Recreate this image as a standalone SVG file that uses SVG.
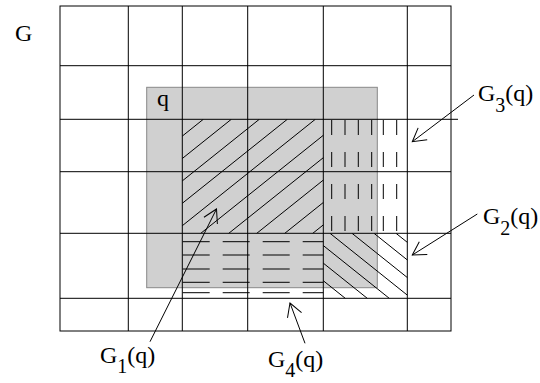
<svg xmlns="http://www.w3.org/2000/svg" width="540" height="383" viewBox="0 0 540 383">
  <style>
    .grid { stroke: #000; stroke-width: 1; fill: none; }
    .hatch { stroke: #000; stroke-width: 1; fill: none; }
    .dv { stroke: #000; stroke-width: 1; stroke-dasharray: 15 17; }
    .dh { stroke: #000; stroke-width: 1; stroke-dasharray: 27 13; }
    .conn { stroke: #000; stroke-width: 1; fill: none; marker-end: url(#ah); }
    text { font-family: "Liberation Serif", "Times New Roman", serif; font-size: 24px; fill: #000; }
  </style>
  <defs>
    <marker id="ah" viewBox="-16 -10 18 20" refX="0" refY="0" markerWidth="18" markerHeight="20" orient="auto" markerUnits="userSpaceOnUse">
      <path d="M-13,-7.5 L0,0 L-13,7.5" fill="none" stroke="#000" stroke-width="1"/>
    </marker>
    <clipPath id="c1"><rect x="182.3" y="119.3" width="141" height="114"/></clipPath>
    <clipPath id="c2"><rect x="323.3" y="233.3" width="84" height="65"/></clipPath>
  </defs>

  <g id="q-region">
    <rect x="146.7" y="87.3" width="230.6" height="200.4" fill="#d0d0d0" stroke="#888" stroke-width="1"/>
    <text x="157" y="106">q</text>
  </g>

  <g id="G1" clip-path="url(#c1)">
    <path class="hatch" d="M203.3,119.3 l-200,160 M231.3,119.3 l-200,160 M259.3,119.3 l-200,160 M287.3,119.3 l-200,160 M315.3,119.3 l-200,160 M343.3,119.3 l-200,160 M371.3,119.3 l-200,160 M399.3,119.3 l-200,160 M427.3,119.3 l-200,160 M455.3,119.3 l-200,160"/>
  </g>

  <g id="G2" clip-path="url(#c2)">
    <path class="hatch" d="M242,233.3 l100,80 M264,233.3 l100,80 M286,233.3 l100,80 M308,233.3 l100,80 M330,233.3 l100,80 M352,233.3 l100,80 M374,233.3 l100,80 M396,233.3 l100,80"/>
  </g>

  <g id="G3">
    <line class="dv" x1="331.7" y1="120" x2="331.7" y2="233"/>
    <line class="dv" x1="345" y1="120" x2="345" y2="233"/>
    <line class="dv" x1="358.3" y1="120" x2="358.3" y2="233"/>
    <line class="dv" x1="371.7" y1="120" x2="371.7" y2="233"/>
    <line class="dv" x1="383.3" y1="120" x2="383.3" y2="233"/>
    <line class="dv" x1="396.7" y1="120" x2="396.7" y2="233"/>
  </g>

  <g id="G4">
    <line class="dh" x1="182.7" y1="241.7" x2="323.3" y2="241.7"/>
    <line class="dh" x1="182.7" y1="255" x2="323.3" y2="255"/>
    <line class="dh" x1="182.7" y1="269" x2="323.3" y2="269"/>
    <line class="dh" x1="182.7" y1="282.3" x2="323.3" y2="282.3"/>
    <line class="dh" x1="182.7" y1="292.7" x2="323.3" y2="292.7"/>
  </g>

  <g id="grid">
    <rect class="grid" x="60" y="6" width="391" height="325"/>
    <line class="grid" x1="128.3" y1="6" x2="128.3" y2="331"/>
    <line class="grid" x1="182.3" y1="6" x2="182.3" y2="331"/>
    <line class="grid" x1="247.7" y1="6" x2="247.7" y2="331"/>
    <line class="grid" x1="323.3" y1="6" x2="323.3" y2="331"/>
    <line class="grid" x1="407.3" y1="6" x2="407.3" y2="331"/>
    <line class="grid" x1="60" y1="65.7" x2="451" y2="65.7"/>
    <line class="grid" x1="60" y1="119.3" x2="458" y2="119.3"/>
    <line class="grid" x1="60" y1="171.7" x2="451" y2="171.7"/>
    <line class="grid" x1="60" y1="233.3" x2="451" y2="233.3"/>
    <line class="grid" x1="60" y1="298.3" x2="451" y2="298.3"/>
    <text x="15" y="41">G</text>
  </g>

  <g id="connectors">
    <line class="conn" x1="150" y1="341.7" x2="216.5" y2="209"/>
    <line class="conn" x1="474" y1="95" x2="412.3" y2="141.7"/>
    <line class="conn" x1="477.3" y1="214" x2="412.3" y2="255"/>
    <line class="conn" x1="305" y1="343.3" x2="290" y2="303"/>
  </g>

  <g id="labels">
    <text x="478" y="101">G<tspan font-size="20" dy="11">3</tspan><tspan dy="-11">(q)</tspan></text>
    <text x="483" y="224">G<tspan font-size="20" dy="11">2</tspan><tspan dy="-11">(q)</tspan></text>
    <text x="100" y="363">G<tspan font-size="20" dy="10">1</tspan><tspan dy="-10">(q)</tspan></text>
    <text x="268" y="367">G<tspan font-size="20" dy="10">4</tspan><tspan dy="-10">(q)</tspan></text>
  </g>
</svg>
